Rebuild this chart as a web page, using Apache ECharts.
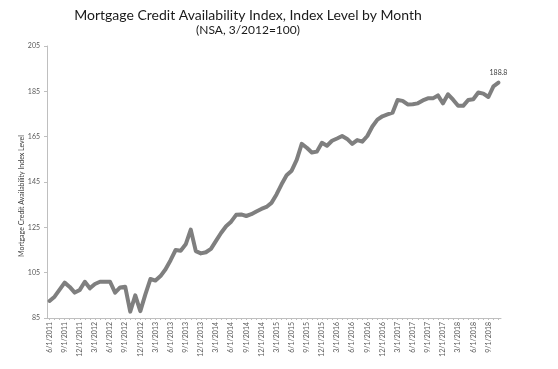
<!DOCTYPE html>
<html>
<head>
<meta charset="utf-8">
<script src="https://cdn.jsdelivr.net/npm/echarts@6/dist/echarts.min.js"></script>
<style>
html,body{margin:0;padding:0;background:#fff;}
#chart{width:558px;height:369px;}
</style>
</head>
<body>
<div id="chart"></div>
<script>
var titleText = "Mortgage Credit Availability Index, Index Level by Month";
var subtitleText = "(NSA, 3/2012=100)";
var yAxisTitle = "Mortgage Credit Availability Index Level";

var months = [
"6/1/2011","7/1/2011","8/1/2011","9/1/2011","10/1/2011","11/1/2011","12/1/2011",
"1/1/2012","2/1/2012","3/1/2012","4/1/2012","5/1/2012","6/1/2012","7/1/2012","8/1/2012","9/1/2012","10/1/2012","11/1/2012","12/1/2012",
"1/1/2013","2/1/2013","3/1/2013","4/1/2013","5/1/2013","6/1/2013","7/1/2013","8/1/2013","9/1/2013","10/1/2013","11/1/2013","12/1/2013",
"1/1/2014","2/1/2014","3/1/2014","4/1/2014","5/1/2014","6/1/2014","7/1/2014","8/1/2014","9/1/2014","10/1/2014","11/1/2014","12/1/2014",
"1/1/2015","2/1/2015","3/1/2015","4/1/2015","5/1/2015","6/1/2015","7/1/2015","8/1/2015","9/1/2015","10/1/2015","11/1/2015","12/1/2015",
"1/1/2016","2/1/2016","3/1/2016","4/1/2016","5/1/2016","6/1/2016","7/1/2016","8/1/2016","9/1/2016","10/1/2016","11/1/2016","12/1/2016",
"1/1/2017","2/1/2017","3/1/2017","4/1/2017","5/1/2017","6/1/2017","7/1/2017","8/1/2017","9/1/2017","10/1/2017","11/1/2017","12/1/2017",
"1/1/2018","2/1/2018","3/1/2018","4/1/2018","5/1/2018","6/1/2018","7/1/2018","8/1/2018","9/1/2018","10/1/2018","11/1/2018"
];

var mcai = [
92.5, 94.4, 97.5, 100.6, 98.7, 96.2, 97.4,
101.0, 98.1, 100.0, 101.0, 101.0, 101.0, 96.2, 98.5, 98.8, 87.8, 95.0, 88.0,
95.4, 102.2, 101.5, 103.5, 106.5, 110.5, 115.0, 114.7, 117.5, 124.0, 114.5, 113.5,
114.0, 115.5, 119.0, 122.5, 125.5, 127.5, 130.5, 130.7, 130.0, 130.8, 132.0, 133.1,
134.0, 135.8, 139.5, 144.0, 148.0, 150.0, 154.8, 161.8, 160.1, 158.0, 158.4, 162.3,
161.0, 163.2, 164.2, 165.3, 164.0, 161.8, 163.5, 162.8, 165.3, 169.5, 172.5, 174.0,
174.8, 175.6, 181.2, 180.8, 179.2, 179.3, 179.7, 181.0, 181.9, 181.9, 183.2, 179.7,
183.7, 181.3, 178.6, 178.6, 181.2, 181.5, 184.5, 184.0, 182.5, 187.2, 188.8
];

var yTicks = { min: 85, max: 205, step: 20 };

var lastIndex = mcai.length - 1;

var chart = echarts.init(document.getElementById('chart'), null, { renderer: 'canvas' });
chart.setOption({
  animation: false,
  backgroundColor: '#ffffff',
  textStyle: { fontFamily: 'Lato' },
  title: [
    { text: titleText, left: 243, top: 3, textAlign: 'center',
      textStyle: { fontSize: 14, fontWeight: 'normal', color: '#1a1a1a', fontFamily: 'Lato' } },
    { text: subtitleText, left: 243, top: 19, textAlign: 'center',
      textStyle: { fontSize: 12, fontWeight: 'normal', color: '#1a1a1a', fontFamily: 'Lato' } }
  ],
  grid: { left: 47, right: 57, top: 46, bottom: 51, containLabel: false },
  xAxis: {
    type: 'category',
    data: months,
    boundaryGap: true,
    axisLine: { show: true, lineStyle: { color: '#bfbfbf', width: 1 } },
    axisTick: { show: true, interval: 0, length: 2, alignWithLabel: true, lineStyle: { color: '#bfbfbf' } },
    axisLabel: { interval: 2, rotate: 90, fontSize: 7, color: '#595959', margin: 4, fontFamily: 'Lato' },
    splitLine: { show: false }
  },
  yAxis: {
    type: 'value',
    min: yTicks.min, max: yTicks.max, interval: yTicks.step,
    axisLine: { show: true, lineStyle: { color: '#bfbfbf', width: 1 } },
    axisTick: { show: true, length: 3, lineStyle: { color: '#bfbfbf' } },
    axisLabel: { fontSize: 7, color: '#595959', margin: 7, fontFamily: 'Lato' },
    splitLine: { show: false }
  },
  graphic: [
    { type: 'text', x: 22, y: 196, rotation: Math.PI / 2,
      style: { text: yAxisTitle, fontSize: 7, fill: '#404040', fontFamily: 'Lato', align: 'center', verticalAlign: 'middle' } }
  ],
  series: [{
    type: 'line',
    data: mcai,
    symbol: 'none',
    showSymbol: false,
    lineStyle: { color: '#7f7f7f', width: 4, join: 'round', cap: 'round' },
    itemStyle: { color: '#7f7f7f' },
    markPoint: {
      symbol: 'circle',
      symbolSize: 0,
      silent: true,
      data: [{ coord: [lastIndex, mcai[lastIndex]], value: mcai[lastIndex] }],
      label: { show: true, position: 'top', distance: 6, formatter: function (p) { return p.value.toFixed(1); },
        color: '#404040', fontSize: 7, fontFamily: 'Lato' }
    }
  }]
});
</script>
</body>
</html>
